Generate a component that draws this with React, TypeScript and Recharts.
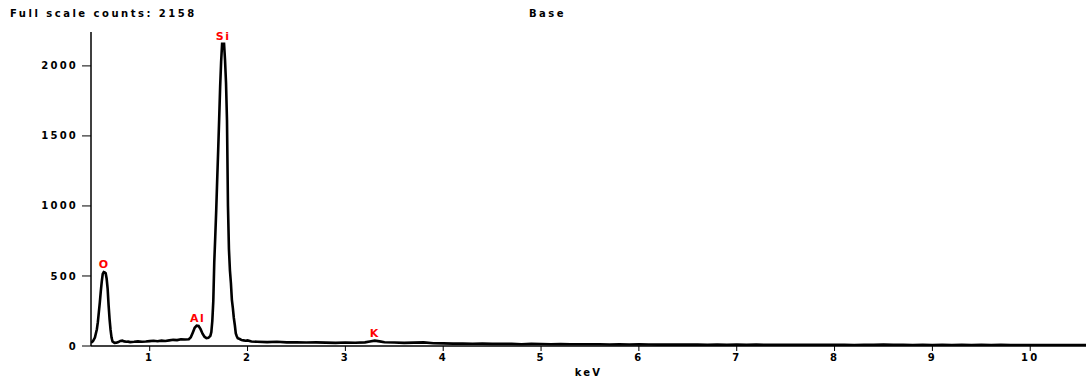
import React from 'react';
import { LineChart, Line, XAxis, YAxis, ReferenceDot } from 'recharts';

// Energy axis (keV) and counts
const energyKeV = [
  0.40, 0.42, 0.44, 0.46, 0.47, 0.48, 0.49, 0.50, 0.51, 0.52, 0.53, 0.54, 0.55, 0.56, 0.57, 0.58, 0.59, 0.60, 0.61, 0.62,
  0.64, 0.66, 0.68, 0.70, 0.72, 0.74, 0.76, 0.78, 0.80, 0.84, 0.88, 0.92, 0.96, 1.00, 1.04, 1.08, 1.12, 1.16, 1.20, 1.24,
  1.28, 1.32, 1.36, 1.40, 1.42, 1.44, 1.46, 1.48, 1.50, 1.52, 1.54, 1.56, 1.58, 1.60, 1.62, 1.63, 1.64, 1.65, 1.66, 1.67,
  1.68, 1.69, 1.70, 1.71, 1.72, 1.73, 1.74, 1.75, 1.76, 1.77, 1.78, 1.79, 1.80, 1.81, 1.82, 1.83, 1.84, 1.85, 1.86, 1.87,
  1.88, 1.89, 1.90, 1.92, 1.94, 1.96, 1.98, 2.00, 2.04, 2.10, 2.20, 2.30, 2.40, 2.50, 2.60, 2.70, 2.80, 2.90, 3.00, 3.10,
  3.20, 3.25, 3.30, 3.35, 3.40, 3.50, 3.60, 3.70, 3.80, 3.90, 4.00, 4.10, 4.20, 4.30, 4.40, 4.50, 4.60, 4.70, 4.80, 4.90,
  5.00, 5.10, 5.20, 5.30, 5.40, 5.50, 5.60, 5.70, 5.80, 5.90, 6.00, 6.10, 6.20, 6.30, 6.40, 6.50, 6.60, 6.70, 6.80, 6.90,
  7.00, 7.10, 7.20, 7.30, 7.40, 7.50, 7.60, 7.70, 7.80, 7.90, 8.00, 8.10, 8.20, 8.30, 8.40, 8.50, 8.60, 8.70, 8.80, 8.90,
  9.00, 9.10, 9.20, 9.30, 9.40, 9.50, 9.60, 9.70, 9.80, 9.90, 10.00, 10.10, 10.20, 10.30, 10.40, 10.50, 10.57,
];

const counts = [
  22, 35, 60, 120, 170, 240, 310, 390, 460, 515, 528, 525, 520, 480, 410, 290, 190, 115, 60, 32,
  22, 24, 28, 36, 38, 33, 30, 31, 28, 30, 33, 30, 32, 35, 37, 34, 38, 36, 40, 44,
  42, 48, 46, 48, 62, 95, 130, 145, 143, 120, 88, 66, 56, 58, 72, 100, 180, 320, 600, 780,
  970, 1190, 1400, 1620, 1850, 2030, 2158, 2158, 2158, 2040, 1880, 1610, 1000, 690, 540, 450, 330, 270, 200, 150,
  90, 70, 55, 50, 42, 40, 38, 40, 32, 30, 28, 30, 26, 27, 25, 26, 24, 22, 25, 23,
  26, 32, 38, 33, 27, 25, 22, 24, 26, 20, 19, 17, 18, 16, 17, 15, 16, 15, 13, 15,
  14, 13, 14, 12, 13, 12, 13, 11, 12, 11, 12, 11, 10, 11, 10, 11, 10, 9, 10, 9,
  10, 9, 10, 9, 8, 9, 8, 9, 8, 9, 8, 9, 7, 9, 8, 10, 8, 9, 7, 8,
  7, 8, 7, 8, 7, 9, 7, 8, 7, 7, 6, 7, 6, 7, 6, 6, 6,
];

const xTicks = [1, 2, 3, 4, 5, 6, 7, 8, 9, 10];
const yTicks = [0, 500, 1000, 1500, 2000];

const peakNames = ['O', 'Al', 'Si', 'K'];
const peakKeV = [0.535, 1.49, 1.75, 3.30];
const peakCounts = [528, 145, 2158, 38];

const spectrum = energyKeV.map((kev, i) => ({ kev, counts: counts[i] }));

const FONT = '"DejaVu Sans", Arial, sans-serif';
const tickStyle = { fill: '#000', fontSize: 10, fontWeight: 'bold' as const, fontFamily: FONT, letterSpacing: 2.2 };

export default function App() {
  return (
    <div style={{ position: 'absolute', left: 0, top: 0, width: 1086, height: 377, background: '#fff' }}>
      <div
        style={{
          position: 'absolute', left: 10, top: 8, fontFamily: FONT, fontWeight: 'bold', fontSize: 10,
          letterSpacing: 2.5, color: '#000', whiteSpace: 'nowrap', lineHeight: '12px',
        }}
      >
        Full scale counts: 2158
      </div>
      <div
        style={{
          position: 'absolute', left: 529, top: 8, fontFamily: FONT, fontWeight: 'bold', fontSize: 10,
          letterSpacing: 2.5, color: '#000', whiteSpace: 'nowrap', lineHeight: '12px',
        }}
      >
        Base
      </div>
      <LineChart width={1086} height={377} data={spectrum} margin={{ top: 32, right: 0, bottom: 1, left: 0 }}>
        <XAxis
          dataKey="kev"
          type="number"
          domain={[0.4, 10.57]}
          ticks={xTicks}
          allowDataOverflow
          height={30}
          tickSize={5}
          tickMargin={3}
          axisLine={{ stroke: '#000', strokeWidth: 1.5 }}
          tickLine={{ stroke: '#000', strokeWidth: 1 }}
          tick={tickStyle}
          label={{ value: 'keV', position: 'insideBottom', offset: 0, fill: '#000', fontSize: 10, fontWeight: 'bold', fontFamily: FONT, letterSpacing: 2.2 }}
        />
        <YAxis
          type="number"
          domain={[0, 2242]}
          ticks={yTicks}
          allowDataOverflow
          width={91}
          tickSize={9}
          tickMargin={4}
          axisLine={{ stroke: '#000', strokeWidth: 1.5 }}
          tickLine={{ stroke: '#000', strokeWidth: 1 }}
          tick={tickStyle}
        />
        <Line
          dataKey="counts"
          type="linear"
          stroke="#000"
          strokeWidth={2.6}
          dot={false}
          activeDot={false}
          isAnimationActive={false}
        />
        {peakNames.map((name, i) => (
          <ReferenceDot
            key={name}
            x={peakKeV[i]}
            y={peakCounts[i]}
            r={0}
            fill="none"
            stroke="none"
            label={{ value: name, position: 'top', offset: 4, fill: '#ff0000', fontSize: 11, fontWeight: 'bold', fontFamily: FONT, letterSpacing: 1.5 }}
          />
        ))}
      </LineChart>
    </div>
  );
}
